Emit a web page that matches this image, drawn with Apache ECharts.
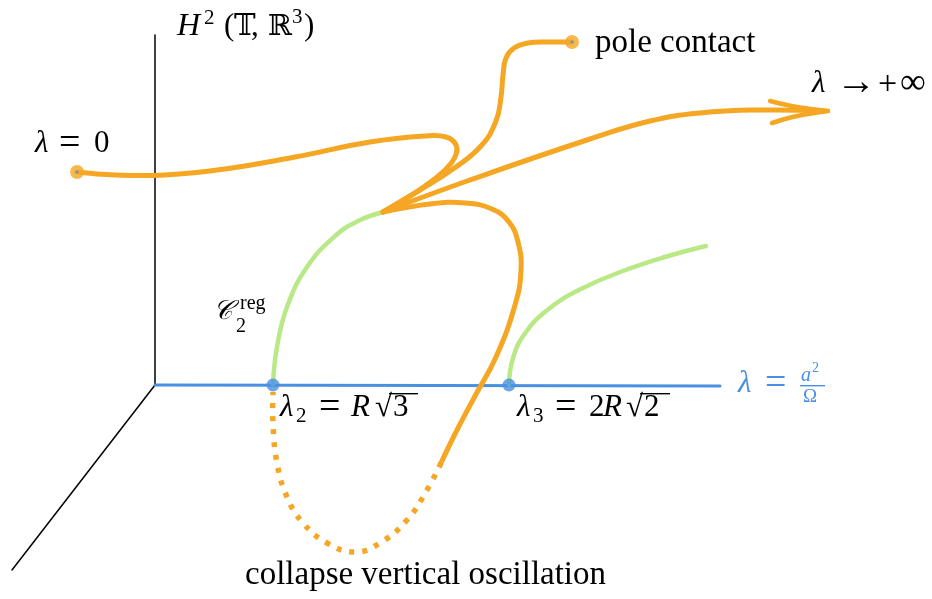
<!DOCTYPE html>
<html><head><meta charset="utf-8">
<script src="https://cdn.jsdelivr.net/npm/echarts@6/dist/echarts.min.js"></script>
<style>html,body{margin:0;padding:0;background:#fff}#c{width:932px;height:599px}</style>
</head><body><div id="c"></div>
<script>
// Diagram coordinates (x to the right, y downward)
var axisVertical = [[155,385],[155,35]];
var axisDiagonal = [[155,385],[12,570]];
var axisLambda = [[155,385],[720,386]];
var bifurcationPoints = [[273,385],[509,385]];
var greenBranch1 = [[273,384],[277,347],[287,307],[307,267],[335,236],[358,221],[383,212]];
var greenBranch2 = [[509,385],[513,358],[526,332],[550,308],[583,288],[623,271],[665,257],[706,246]];
var orangeLambda0 = [[77,172],[115,175],[165,175],[225,169],[295,157],[370,142],[425,136],[446,137],[456,145],[455,157],[445,170],[425,186],[405,199],[383,212]];
var orangePole = [[383,212],[420,190],[453,169],[481,146],[496,121],[501,97],[503,75],[506,58],[514,48],[528,43],[548,42],[572,42]];
var orangeInfinity = [[383,212],[470,180],[590,139],[650,121],[700,113],[760,110],[824,111]];
var arrowBarbTop = [[770,101],[797,107],[828,111]];
var arrowBarbBottom = [[772,123],[797,116],[828,111]];
var orangeLoopSolid = [[383,212],[430,204],[465,203],[492,209],[509,222],[518,242],[521,270],[515,305],[496,357],[475,396],[457,430],[441,463]];
var orangeLoopDotted = [[441,463],[427,490],[407,520],[380,543],[355,552],[327,543],[303,523],[287,497],[277,463],[273,423],[273,392]];
var endPoints = [[77,172],[572,42]];

var ORANGE = '#f5a623', GREEN = '#b8e986', BLUE = '#4a90e2';
var serif = '"Liberation Serif","DejaVu Serif",serif';

// a smooth curve drawn through the given points via the chart's scales
function curve(pts, color, width, dash, smooth, z){
  return {type:'custom', z:z||2, silent:true, data:[0],
    renderItem:function(params, api){
      var p = pts.map(function(d){ return api.coord(d); });
      return {type:'polyline', shape:{points:p, smooth:smooth||0},
        style:{stroke:color, lineWidth:width, fill:null, lineDash:dash||null,
          lineCap: dash?'butt':'round', lineJoin:'round'}};
    }};
}
// text token placed by its baseline
function T(text, x, baseline, size, italic, color){
  return {type:'text', left:x, top:baseline - 0.8*size, z:10,
    style:{text:text, font:(italic?'italic ':'')+size+'px '+serif, fill:color||'#000'}};
}
function EQ(x, baseline, color){ return T('=', x, baseline+2, 38, false, color); }
function bar(x1, x2, y, color){
  return {type:'rect', z:10, shape:{x:x1, y:y, width:x2-x1, height:1.4}, style:{fill:color||'#000'}};
}

var chart = echarts.init(document.getElementById('c'));
chart.setOption({
  animation:false,
  grid:{left:0,right:0,top:0,bottom:0},
  xAxis:{type:'value',min:0,max:932,show:false},
  yAxis:{type:'value',min:0,max:599,inverse:true,show:false},
  series:[
    curve(axisVertical,'#000',1.5,null,0,1),
    curve(axisDiagonal,'#000',1.5,null,0,1),
    curve(axisLambda,BLUE,3,null,0,1),
    curve(greenBranch1,GREEN,4.5,null,0.45,2),
    curve(greenBranch2,GREEN,4.5,null,0.45,2),
    curve(orangeLambda0,ORANGE,5,null,0.45,3),
    curve(orangePole,ORANGE,5,null,0.45,3),
    curve(orangeInfinity,ORANGE,5,null,0.45,3),
    curve(arrowBarbTop,ORANGE,4.5,null,0.4,3),
    curve(arrowBarbBottom,ORANGE,4.5,null,0.4,3),
    curve(orangeLoopSolid,ORANGE,5,null,0.45,3),
    curve(orangeLoopDotted,ORANGE,5.5,[5,8],0.45,3),
    {type:'scatter',data:bifurcationPoints,symbolSize:13,itemStyle:{color:BLUE},z:5,silent:true},
    {type:'scatter',data:endPoints,symbolSize:14,itemStyle:{color:ORANGE},z:5,silent:true},
    {type:'scatter',data:endPoints,symbolSize:3,itemStyle:{color:BLUE},z:6,silent:true}
  ],
  graphic:[
    // H^2 (T, R^3)
    T('H',177,36,32,true), T('2',204,25,21), T('(',224,36,31), T('𝕋',234,36,29), T(',',251,36,31),
    T('ℝ',268,36,29), T('3',292,24,21), T(')',304,36,31),
    T('pole contact',595,53,33),
    // lambda -> +inf
    T('λ',812,93,31,true), T('→',836,95,40), T('+',878,95,34), T('∞',900,94,36),
    // lambda = 0
    T('λ',35,153,31,true), EQ(59,153), T('0',94,153,31),
    // C_2^reg
    T('𝒞',213,320,27,true), T('reg',240,310,20), T('2',236,333,20),
    // lambda_2 = R sqrt 3
    T('λ',280,417,31,true), T('2',296,423,21), EQ(319,417), T('R',351,417,31,true),
    T('√',375,417,31), bar(389,418,393), T('3',393,417,31),
    // lambda_3 = 2R sqrt 2
    T('λ',517,417,31,true), T('3',533,423,21), EQ(555,417), T('2',589,417,31), T('R',603,417,31,true),
    T('√',626,417,31), bar(640,670,393), T('2',644,417,31),
    // lambda = a^2 / Omega (blue)
    T('λ',738,393,31,true,BLUE), EQ(765,393,BLUE),
    T('a',801,382,20,true,BLUE), T('2',812,373,14,false,BLUE), bar(800,825,385,BLUE), T('Ω',803,403,19,false,BLUE),
    T('collapse vertical oscillation',245,585,33)
  ]
});
</script></body></html>
